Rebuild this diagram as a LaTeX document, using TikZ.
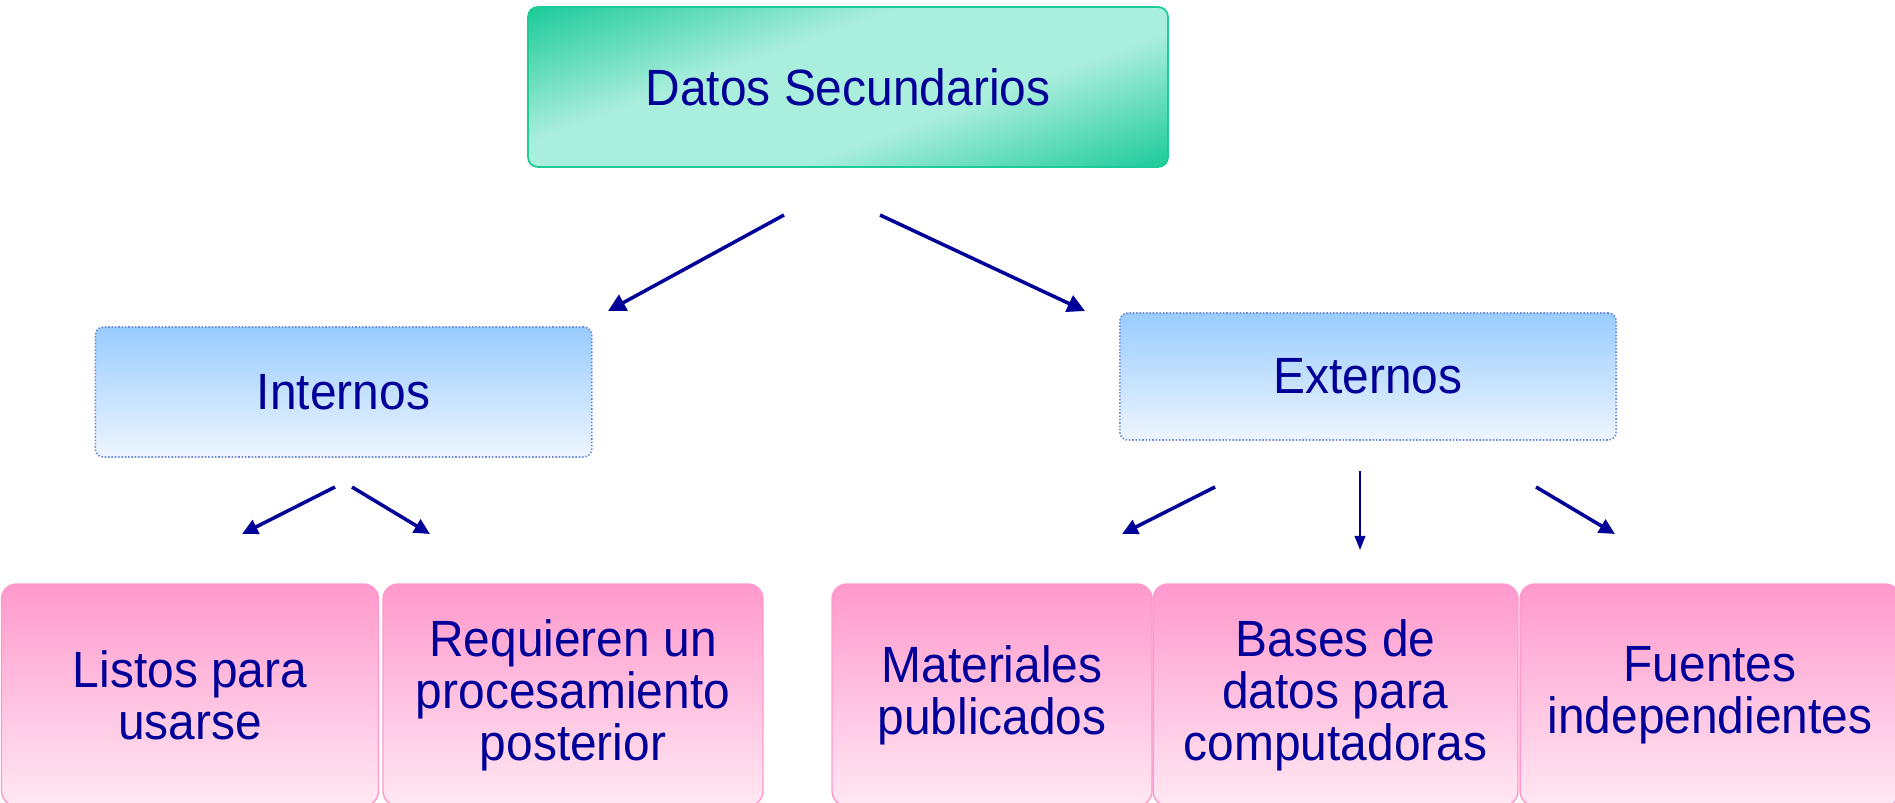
\documentclass[tikz,border=0pt]{standalone}
\usepackage{fontspec}
\setmainfont{Liberation Sans}[FakeStretch=0.94]
\usetikzlibrary{arrows.meta}

\definecolor{txtblue}{RGB}{0,0,153}
\definecolor{tealdark}{RGB}{28,203,152}
\definecolor{teallight}{RGB}{170,238,221}
\definecolor{bluetop}{RGB}{153,204,255}
\definecolor{bluebot}{RGB}{238,245,255}
\definecolor{bluedot}{RGB}{110,140,220}
\definecolor{pinktop}{RGB}{255,153,204}
\definecolor{pinkbot}{RGB}{255,232,243}

\pgfdeclareverticalshading{rootshade}{100bp}{color(0bp)=(tealdark); color(18bp)=(tealdark);
  color(40bp)=(teallight); color(60bp)=(teallight); color(82bp)=(tealdark); color(100bp)=(tealdark)}

\tikzset{
  boxtext/.style={font=\fontsize{29}{29.5}\selectfont, text=txtblue, align=center, inner sep=0pt},
  rootbox/.style={boxtext, draw=tealdark, line width=1pt, rounded corners=5.5pt,
    shading=rootshade, shading angle=20,
    minimum width=12.8cm, minimum height=3.2cm},
  groupbox/.style={boxtext, draw=bluedot, densely dotted, line width=0.9pt, rounded corners=4.5pt,
    top color=bluetop, bottom color=bluebot, minimum width=9.93cm},
  leafbox/.style={boxtext, draw=pinktop, line width=0.8pt, rounded corners=8.5pt,
    top color=pinktop, bottom color=pinkbot, minimum height=4.44cm},
  bigarrow/.style={draw=txtblue, line width=2pt, -{Triangle[length=10pt,width=10pt]}},
  smallarrow/.style={draw=txtblue, line width=2pt, -{Triangle[length=9pt,width=8.5pt]}},
  thinarrow/.style={draw=txtblue, line width=1.2pt, -{Triangle[length=8pt,width=6pt]}}
}

\begin{document}
\begin{tikzpicture}[x=0.02cm, y=-0.02cm]
		%%%%% START %%%%%
		\useasboundingbox (0, 0) rectangle (1895, 802);
		\clip (0, 0) rectangle (1895, 802);
		
		\node[rootbox] (datos) at (848, 87) {Datos Secundarios};
		
		\node[groupbox, minimum height=2.6cm] (internos) at (343.5, 392) {Internos};
		\node[groupbox, minimum height=2.54cm] (externos) at (1368, 376.5) {Externos};
		
		\node[leafbox, minimum width=7.54cm] (listos) at (190, 695) {Listos para\\usarse};
		\node[leafbox, minimum width=7.6cm] (requieren) at (573, 695) {Requieren un\\procesamiento\\posterior};
		\node[leafbox, minimum width=6.4cm] (materiales) at (992, 695) {Materiales\\publicados};
		\node[leafbox, minimum width=7.3cm] (bases) at (1335.5, 695) {Bases de\\datos para\\computadoras};
		\node[leafbox, minimum width=7.6cm] (fuentes) at (1710, 695) {Fuentes\\independientes};
		
		% arrow ends
		\coordinate (datosL) at (784, 215);
		\coordinate (datosR) at (880, 215);
		\coordinate (internosIn) at (608, 311);
		\coordinate (externosIn) at (1085, 311);
		\coordinate (internosL) at (335, 487);
		\coordinate (internosR) at (352, 487);
		\coordinate (listosIn) at (242, 534);
		\coordinate (requierenIn) at (430, 534);
		\coordinate (externosL) at (1215, 487);
		\coordinate (externosM) at (1360, 471);
		\coordinate (externosR) at (1536, 487);
		\coordinate (materialesIn) at (1122, 534);
		\coordinate (basesIn) at (1360, 550);
		\coordinate (fuentesIn) at (1615, 534);
		
		\draw[bigarrow] (datosL) -- (internosIn);
		\draw[bigarrow] (datosR) -- (externosIn);
		
		\draw[smallarrow] (internosL) -- (listosIn);
		\draw[smallarrow] (internosR) -- (requierenIn);
		
		\draw[smallarrow] (externosL) -- (materialesIn);
		\draw[thinarrow] (externosM) -- (basesIn);
		\draw[smallarrow] (externosR) -- (fuentesIn);
		
		%%%%% END %%%%%
\end{tikzpicture}
\end{document}
